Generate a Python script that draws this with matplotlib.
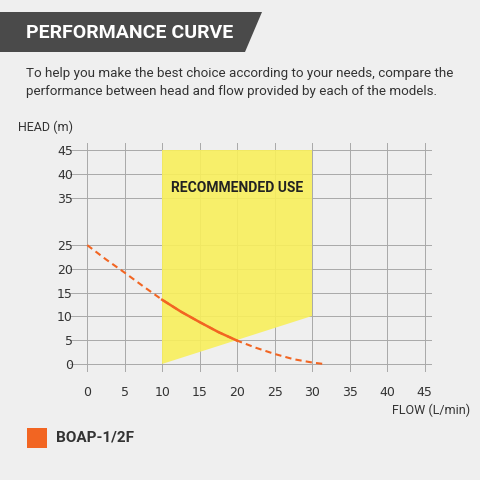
import matplotlib
matplotlib.use("Agg")
import matplotlib.pyplot as plt
from matplotlib.patches import Polygon

x_ticks = [0, 5, 10, 15, 20, 25, 30, 35, 40, 45]
y_ticks = [0, 5, 10, 15, 20, 25, 35, 40, 45]
curve_x = [0, 2.5, 5, 7.5, 10, 12.5, 15, 17.5, 20, 22.5, 25, 27.5, 30, 31.5]
curve_y = [25, 22.0, 19.2, 16.3, 13.5, 11.0, 8.8, 6.7, 4.9, 3.4, 2.1, 1.0, 0.3, 0]
solid_range = (10, 20)
rec_x = [10, 10, 30, 30]
rec_y = [0, 45, 45, 10]

bg = "#efefef"
fig = plt.figure(figsize=(4.8, 4.8), dpi=100, facecolor=bg)
fig.patches.append(Polygon([[0, 1-12/480], [262/480, 1-12/480], [245/480, 1-52/480], [0, 1-52/480]],
                           closed=True, transform=fig.transFigure, facecolor="#4a4a4a", edgecolor="none"))
fig.text(26/480, 1-33/480, "PERFORMANCE CURVE", color="white", fontsize=14, fontweight="bold",
         va="center", ha="left", family="Roboto")
fig.text(26/480, 1-73/480, "To help you make the best choice according to your needs, compare the",
         fontsize=9.6, color="#333333", va="center", family="Roboto")
fig.text(26/480, 1-92/480, "performance between head and flow provided by each of the models.",
         fontsize=9.6, color="#333333", va="center", family="Roboto")

ax = fig.add_axes([70/480, 1-372/480, 362/480, 229/480])
ax.set_facecolor(bg)
ax.set_xlim(-2.3, 46)
ax.set_ylim(-1.7, 46.5)
for s in ax.spines.values():
    s.set_visible(False)
ax.set_xticks(x_ticks)
ax.set_yticks(y_ticks)
ax.tick_params(length=0, labelsize=9, colors="#333333")
ax.tick_params(axis="x", pad=10)
ax.tick_params(axis="y", pad=-2)
for v in x_ticks:
    ax.axvline(v, color="#a8a8a8", lw=0.7, zorder=1)
for v in y_ticks:
    ax.axhline(v, color="#a8a8a8", lw=0.7, zorder=1)

ax.add_patch(Polygon(list(zip(rec_x, rec_y)), closed=True, facecolor="#f8ef5c", edgecolor="none", alpha=0.9, zorder=2))
ax.text(20, 37, "RECOMMENDED USE", ha="center", va="center", fontsize=10, fontweight="bold",
        color="#222222", zorder=4, family="Roboto")

c = "#f26522"
ax.plot(curve_x, curve_y, color=c, lw=1.5, ls=(0, (3, 2)), zorder=3)
sx = [x for x in curve_x if solid_range[0] <= x <= solid_range[1]]
sy = [y for x, y in zip(curve_x, curve_y) if solid_range[0] <= x <= solid_range[1]]
ax.plot(sx, sy, color=c, lw=1.8, zorder=3.5)

fig.text(18/480, 1-127/480, "HEAD (m)", fontsize=9, color="#333333", va="center", family="Roboto")
fig.text(470/480, 1-410/480, "FLOW (L/min)", fontsize=9, color="#333333", va="center", ha="right", family="Roboto")
fig.patches.append(plt.Rectangle((27/480, 1-448/480), 20/480, 20/480, transform=fig.transFigure,
                                 facecolor=c, edgecolor="none"))
fig.text(56/480, 1-438/480, "BOAP-1/2F", fontsize=11, fontweight="bold", color="#333333", va="center", family="Roboto")

fig.savefig("out.png", dpi=100, facecolor=bg)
